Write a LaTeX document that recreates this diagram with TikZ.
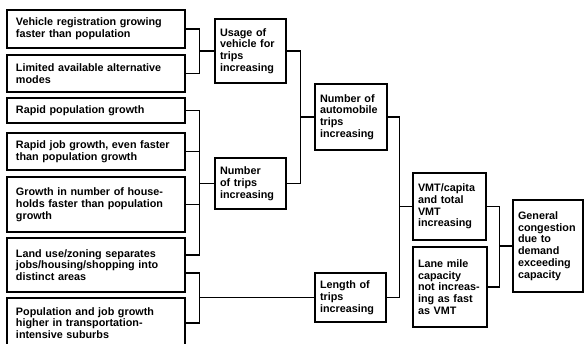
\documentclass[tikz,border=0pt]{standalone}
\usepackage{fontspec}
\setsansfont{Liberation Sans}
\usepackage[dvipsnames]{xcolor}

\begin{document}
\begin{tikzpicture}[x=1pt,y=-1pt,line width=1.7pt,
  main node/.style={draw,rectangle,line width=1.3pt,align=left,inner ysep=2pt,font=\sffamily\bfseries\fontsize{10.8}{11.8}\selectfont},
  cause node/.style={main node,inner xsep=9pt,text width=160pt},
  effect node/.style={main node,inner xsep=5pt}]

            \useasboundingbox (0,0) rectangle (584,344);

            % causes
            \node[cause node] (1) at (96,29) [minimum height=38pt]{Vehicle registration growing\\faster than population};
            \node[cause node] (2) at (96,73.5) [minimum height=37pt]{Limited available alternative\\modes};
            \node[cause node] (3) at (96,110.5) [minimum height=25pt]{Rapid population growth};
            \node[cause node] (4) at (96,151.5) [minimum height=37pt]{Rapid job growth, even faster\\than population growth};
            \node[cause node] (5) at (96,204.5) [minimum height=55pt]{Growth in number of house-\\holds faster than population\\growth};
            \node[cause node] (6) at (96,265) [minimum height=54pt]{Land use/zoning separates\\jobs/housing/shopping into\\distinct areas};
            \node[cause node] (7) at (96,323) [minimum height=50pt]{Population and job growth\\higher in transportation-\\intensive suburbs};

            % effects
            \node[effect node] (8) at (250.5,51) [text width=61pt, minimum height=64pt]{Usage of\\vehicle for\\trips\\increasing};
            \node[effect node] (9) at (250.5,183.5) [text width=61pt, minimum height=51pt]{Number\\of trips\\increasing};
            \node[effect node] (10) at (350.5,297.5) [text width=61pt, minimum height=49pt]{Length of\\trips\\increasing};
            \node[effect node] (11) at (351,117) [text width=62pt, minimum height=66pt]{Number of\\automobile\\trips\\increasing};
            \node[effect node] (12) at (449.5,206.5) [text width=63pt, minimum height=67pt]{VMT/capita\\and total\\VMT\\increasing};
            \node[effect node] (13) at (450,287) [text width=64pt, minimum height=80pt]{Lane mile\\capacity\\not increas-\\ing as fast\\as VMT};
            \node[effect node] (14) at (548,246) [text width=60pt, minimum height=92pt]{General\\congestion\\due to\\demand\\exceeding\\capacity};

            % junctions
            \coordinate (j1) at ([xshift=-15pt]8.west);
            \coordinate (j2) at ([xshift=-15pt]9.west);
            \coordinate (j3) at ([xshift=-115pt]10.west);
            \coordinate (j4) at ([xshift=-14pt]11.west);
            \coordinate (j5) at ([xshift=-13pt]12.west);
            \coordinate (j6) at ([xshift=-13pt]14.west);

            \draw (1.east) -| (j1) |- (2.east);
            \draw (j1) -- (8.west);
            \draw (3.east) -| (j2) |- ([yshift=10pt]6.east);
            \draw (4.east) -- (4.east -| j2);
            \draw (5.east) -- (5.east -| j2);
            \draw (j2) -- (9.west);
            \draw ([yshift=-8pt]6.east) -| (j3) |- (7.east);
            \draw (j3) -- (10.west);
            \draw (8.east) -| (j4) |- (9.east);
            \draw (j4) -- (11.west);
            \draw (11.east) -| (j5) |- (10.east);
            \draw (j5) -- (12.west);
            \draw (12.east) -| (j6) |- (13.east);
            \draw (j6) -- (14.west);
        \end{tikzpicture}
\end{document}
